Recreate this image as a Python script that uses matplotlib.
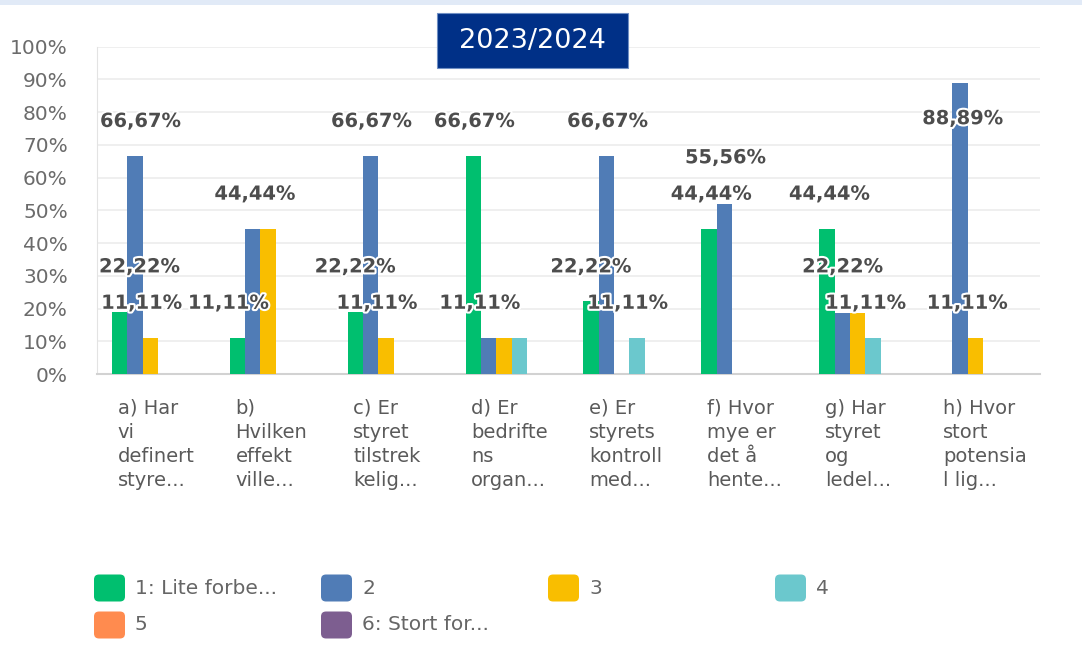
import numpy as np
import matplotlib
matplotlib.use("Agg")
import matplotlib.pyplot as plt
import matplotlib.transforms as mtransforms
from matplotlib.patches import FancyBboxPatch, Rectangle
import matplotlib.patheffects as pe

# ---- data ----
categories = [
    ["a) Har", "vi", "definert", "styre..."],
    ["b)", "Hvilken", "effekt", "ville..."],
    ["c) Er", "styret", "tilstrek", "kelig..."],
    ["d) Er", "bedrifte", "ns", "organ..."],
    ["e) Er", "styrets", "kontroll", "med..."],
    ["f) Hvor", "mye er", "det å", "hente..."],
    ["g) Har", "styret", "og", "ledel..."],
    ["h) Hvor", "stort", "potensia", "l lig..."],
]
series_names = ["1: Lite forbe...", "2", "3", "4", "5", "6: Stort for..."]

# bar heights as drawn (%)
s1 = [19.0, 11.11, 19.0, 66.67, 22.22, 44.44, 44.44, 0]
s2 = [66.67, 44.44, 66.67, 11.11, 66.67, 52.0, 18.5, 88.89]
s3 = [11.11, 44.44, 11.11, 11.11, 0, 0, 18.5, 11.11]
s4 = [0, 0, 0, 11.11, 11.11, 0, 11.11, 0]
s5 = [0, 0, 0, 0, 0, 0, 0, 0]
s6 = [0, 0, 0, 0, 0, 0, 0, 0]

# data labels shown per group
label_vals = [
    [66.67, 22.22, 11.11],
    [44.44, 11.11],
    [66.67, 22.22, 11.11],
    [66.67, 11.11],
    [66.67, 22.22, 11.11],
    [55.56, 44.44],
    [44.44, 22.22, 11.11],
    [88.89, 11.11],
]
# horizontal placement of those labels, in bar slots
label_slot = [
    [1.37, 1.31, 1.45],
    [1.15, -0.58],
    [1.06, 0.0, 1.42],
    [0.08, 0.44],
    [1.08, 0.0, 2.39],
    [1.09, 0.16],
    [0.18, 1.04, 2.54],
    [1.18, 1.48],
]

colors = ["#00BF6F", "#507CB6", "#F9BE00", "#6BC8CD", "#FF8B4F", "#7D5E90"]
series = [s1, s2, s3, s4, s5, s6]

W, H = 1082, 658
fig = plt.figure(figsize=(W / 100, H / 100), dpi=100)
fig.patch.set_facecolor("white")

# top light strip
fig.add_artist(Rectangle((0, 1 - 5 / H), 1, 5 / H, transform=fig.transFigure,
                         facecolor="#e1eaf7", edgecolor="none"))

ax = fig.add_axes([97 / W, 1 - 374 / H, (1040 - 97) / W, (374 - 46.7) / H])

bw = 0.13
off = 0.127
x = np.arange(len(categories))
for k, (vals, c) in enumerate(zip(series, colors)):
    ax.bar(x + off + bw * (k + 0.5), vals, width=bw, color=c, zorder=3)

ax.set_xlim(0, len(categories))
ax.set_ylim(0, 100)
ax.set_yticks(np.arange(0, 101, 10))
ax.set_yticklabels([f"{t}%" for t in range(0, 101, 10)])
ax.tick_params(axis="y", length=0, pad=21, labelsize=14.5, labelcolor="#6b6b6b")
ax.set_xticks([])
ax.grid(axis="y", color="#ececec", lw=1.2, zorder=0)
for s in ["top", "right"]:
    ax.spines[s].set_visible(False)
ax.spines["left"].set_color("#e3e3e3")
ax.spines["bottom"].set_color("#d2d2d2")
ax.spines["bottom"].set_linewidth(1.5)

# data labels
for i in range(len(categories)):
    for v, sl in zip(label_vals[i], label_slot[i]):
        ax.text(i + off + bw * (sl + 0.5), min(v + 10.5, 78),
                f"{v:.2f}".replace(".", ",") + "%",
                ha="center", va="center", fontsize=14, fontweight="bold",
                color="#4d4d4d", zorder=5,
                path_effects=[pe.withStroke(linewidth=3, foreground="white")])

# category labels
trans = mtransforms.blended_transform_factory(ax.transData, fig.transFigure)
for i, lines in enumerate(categories):
    for j, line in enumerate(lines):
        fig.text(i + 0.175, 1 - (408 + 24 * j) / H, line, transform=trans,
                 ha="left", va="center", fontsize=14, color="#5a5a5a")

# title box
fig.add_artist(Rectangle((437 / W, 1 - 68 / H), (628 - 437) / W, 55 / H,
                         transform=fig.transFigure, facecolor="#003087",
                         edgecolor="#6f8fc4", lw=0.8, zorder=6))
fig.text(532.5 / W, 1 - 41 / H, "2023/2024", ha="center", va="center",
         fontsize=19.5, color="white", zorder=7)

# legend
leg_x = [94, 321, 548, 775]
for k, (name, c) in enumerate(zip(series_names, colors)):
    col, row = k % 4, k // 4
    lx = leg_x[col]
    ly = 588 + 37 * row
    fig.add_artist(FancyBboxPatch((lx / 100, (H - ly - 13.5) / 100), 0.31, 0.27,
                                  boxstyle="round,pad=0,rounding_size=0.05",
                                  transform=fig.dpi_scale_trans,
                                  facecolor=c, edgecolor="none"))
    fig.text((lx + 41) / W, 1 - ly / H, name, ha="left", va="center",
             fontsize=14.5, color="#666666")

fig.savefig("out.png", dpi=100)
